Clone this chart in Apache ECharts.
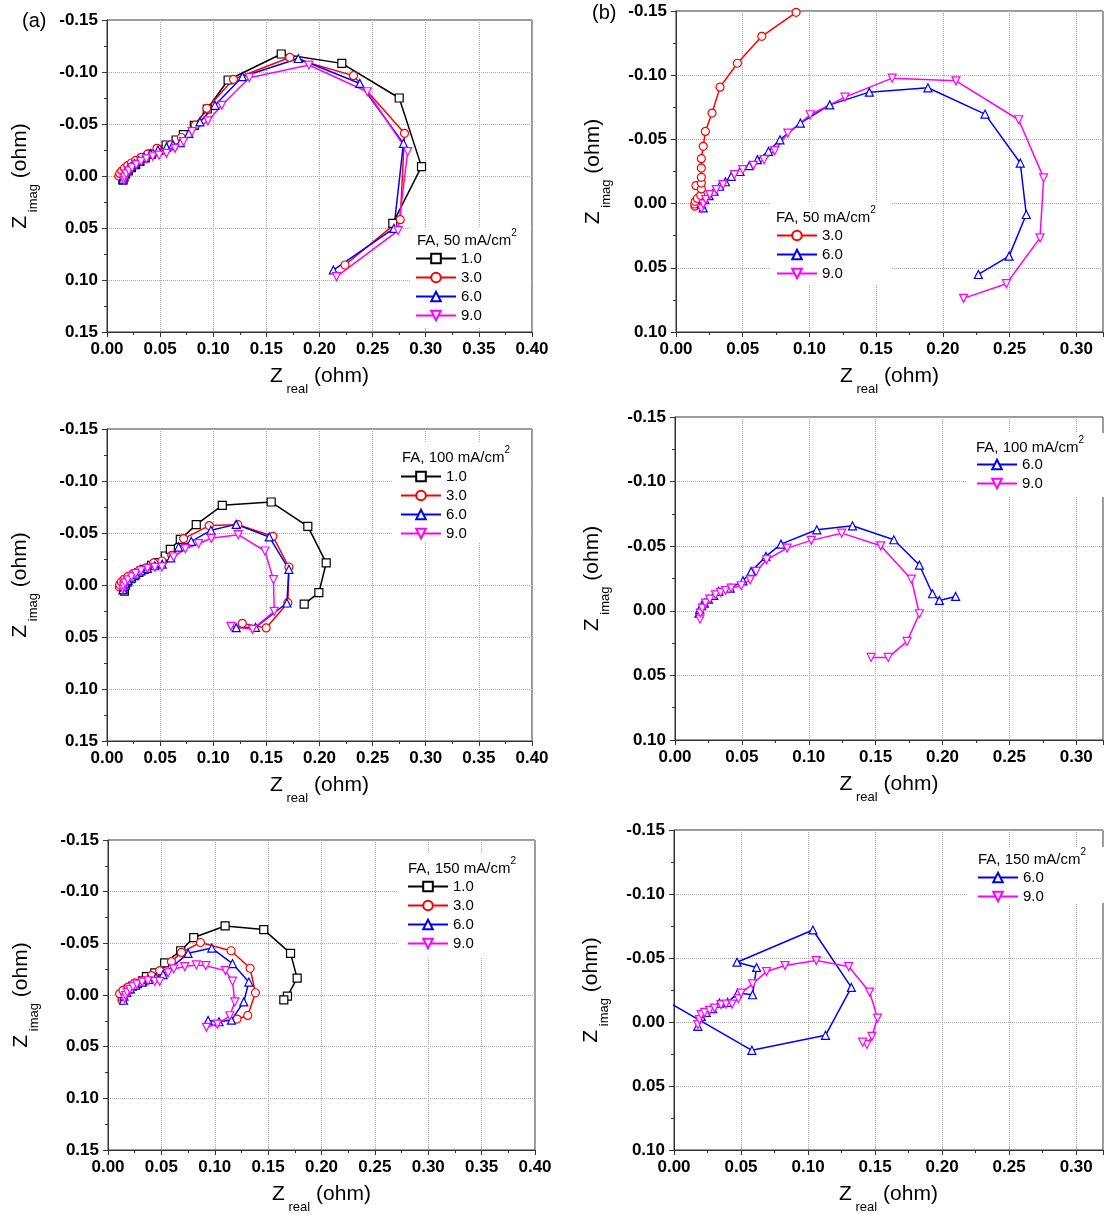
<!DOCTYPE html>
<html>
<head>
<meta charset="utf-8">
<script src="https://cdn.jsdelivr.net/npm/echarts@6/dist/echarts.min.js"></script>
<style>
html,body{margin:0;padding:0;background:#fff;}
#c{width:1106px;height:1215px;}
</style>
</head>
<body>
<div id="c"></div>
<script>
// ---------- data: [Zreal, Zimag] pairs (ohm) ----------
// (a) FA, 50 mA/cm2
const A50_10 = [[0.0150,0.0040],[0.0160,0.0010],[0.0175,-0.0020],[0.0200,-0.0050],[0.0230,-0.0080],[0.0270,-0.0110],[0.0310,-0.0140],[0.0360,-0.0175],[0.0420,-0.0210],[0.0480,-0.0250],[0.0556,-0.0298],[0.0650,-0.0346],[0.0719,-0.0397],[0.0822,-0.0487],[0.0944,-0.0644],[0.1140,-0.0923],[0.1640,-0.1173],[0.2210,-0.1083],[0.2750,-0.0750],[0.2960,-0.0090],[0.2690,0.0455]];
const A50_30 = [[0.0110,0.0000],[0.0120,-0.0025],[0.0140,-0.0050],[0.0165,-0.0075],[0.0195,-0.0100],[0.0230,-0.0125],[0.0270,-0.0150],[0.0320,-0.0180],[0.0380,-0.0210],[0.0470,-0.0266],[0.0600,-0.0300],[0.0700,-0.0370],[0.0830,-0.0490],[0.0940,-0.0650],[0.1190,-0.0930],[0.1720,-0.1140],[0.2320,-0.0965],[0.2800,-0.0410],[0.2760,0.0420],[0.2240,0.0856]];
const A50_60 = [[0.0150,0.0030],[0.0155,0.0000],[0.0170,-0.0030],[0.0195,-0.0060],[0.0225,-0.0090],[0.0260,-0.0120],[0.0300,-0.0150],[0.0350,-0.0180],[0.0410,-0.0215],[0.0480,-0.0250],[0.0560,-0.0280],[0.0620,-0.0300],[0.0690,-0.0320],[0.0770,-0.0410],[0.0875,-0.0520],[0.1016,-0.0680],[0.1275,-0.0955],[0.1800,-0.1130],[0.2380,-0.0890],[0.2790,-0.0314],[0.2700,0.0503],[0.2130,0.0904]];
const A50_90 = [[0.0160,0.0040],[0.0165,0.0010],[0.0180,-0.0020],[0.0205,-0.0050],[0.0235,-0.0080],[0.0275,-0.0110],[0.0320,-0.0140],[0.0370,-0.0165],[0.0430,-0.0190],[0.0490,-0.0200],[0.0560,-0.0218],[0.0640,-0.0266],[0.0720,-0.0330],[0.0800,-0.0426],[0.0950,-0.0530],[0.1080,-0.0680],[0.1340,-0.0945],[0.1900,-0.1067],[0.2450,-0.0810],[0.2830,-0.0234],[0.2740,0.0526],[0.2160,0.0968]];
// (b) FA, 50 mA/cm2
const B50_30 = [[0.0142,0.0020],[0.0140,0.0003],[0.0145,-0.0018],[0.0160,-0.0040],[0.0185,-0.0065],[0.0150,-0.0140],[0.0190,-0.0114],[0.0190,-0.0160],[0.0190,-0.0205],[0.0190,-0.0277],[0.0190,-0.0350],[0.0204,-0.0446],[0.0220,-0.0562],[0.0270,-0.0705],[0.0330,-0.0907],[0.0460,-0.1093],[0.0643,-0.1303],[0.0900,-0.1490]];
const B50_60 = [[0.0204,0.0034],[0.0190,0.0003],[0.0216,-0.0031],[0.0248,-0.0062],[0.0285,-0.0096],[0.0327,-0.0135],[0.0370,-0.0170],[0.0414,-0.0212],[0.0480,-0.0250],[0.0549,-0.0295],[0.0610,-0.0342],[0.0693,-0.0407],[0.0779,-0.0497],[0.0932,-0.0627],[0.1152,-0.0769],[0.1449,-0.0868],[0.1888,-0.0902],[0.2316,-0.0697],[0.2580,-0.0316],[0.2625,0.0085],[0.2496,0.0409],[0.2266,0.0552]];
const B50_90 = [[0.0190,0.0039],[0.0204,0.0003],[0.0223,-0.0031],[0.0253,-0.0070],[0.0302,-0.0109],[0.0352,-0.0148],[0.0438,-0.0225],[0.0500,-0.0264],[0.0580,-0.0298],[0.0660,-0.0342],[0.0740,-0.0412],[0.0838,-0.0549],[0.1006,-0.0692],[0.1266,-0.0829],[0.1620,-0.0977],[0.2098,-0.0956],[0.2568,-0.0653],[0.2755,-0.0200],[0.2728,0.0267],[0.2476,0.0624],[0.2155,0.0738]];
// (a) FA, 100 mA/cm2
const A100_10 = [[0.0163,0.0058],[0.0165,0.0030],[0.0175,0.0000],[0.0195,-0.0030],[0.0225,-0.0060],[0.0260,-0.0090],[0.0300,-0.0120],[0.0350,-0.0150],[0.0420,-0.0190],[0.0480,-0.0215],[0.0549,-0.0279],[0.0596,-0.0343],[0.0690,-0.0439],[0.0840,-0.0580],[0.1085,-0.0766],[0.1545,-0.0798],[0.1890,-0.0564],[0.2063,-0.0212],[0.1994,0.0074],[0.1856,0.0183]];
const A100_30 = [[0.0116,0.0019],[0.0120,-0.0005],[0.0135,-0.0030],[0.0160,-0.0055],[0.0195,-0.0080],[0.0240,-0.0105],[0.0300,-0.0135],[0.0370,-0.0165],[0.0439,-0.0212],[0.0517,-0.0231],[0.0610,-0.0285],[0.0721,-0.0446],[0.0962,-0.0571],[0.1232,-0.0580],[0.1561,-0.0468],[0.1712,-0.0173],[0.1702,0.0170],[0.1498,0.0413],[0.1273,0.0369]];
const A100_60 = [[0.0150,0.0045],[0.0155,0.0015],[0.0170,-0.0015],[0.0195,-0.0045],[0.0230,-0.0075],[0.0270,-0.0105],[0.0320,-0.0135],[0.0380,-0.0160],[0.0450,-0.0185],[0.0520,-0.0200],[0.0600,-0.0260],[0.0674,-0.0365],[0.0793,-0.0420],[0.0978,-0.0526],[0.1216,-0.0583],[0.1527,-0.0462],[0.1712,-0.0151],[0.1693,0.0173],[0.1398,0.0407],[0.1216,0.0410]];
const A100_90 = [[0.0150,0.0040],[0.0155,0.0010],[0.0170,-0.0020],[0.0195,-0.0050],[0.0230,-0.0080],[0.0270,-0.0110],[0.0320,-0.0140],[0.0380,-0.0160],[0.0450,-0.0170],[0.0517,-0.0173],[0.0627,-0.0269],[0.0737,-0.0349],[0.0862,-0.0397],[0.0981,-0.0449],[0.1235,-0.0484],[0.1486,-0.0327],[0.1567,-0.0051],[0.1574,0.0253],[0.1370,0.0426],[0.1166,0.0397]];
// (b) FA, 100 mA/cm2
const B100_60 = [[0.0179,0.0018],[0.0185,-0.0010],[0.0200,-0.0040],[0.0220,-0.0060],[0.0250,-0.0090],[0.0290,-0.0120],[0.0327,-0.0150],[0.0413,-0.0176],[0.0508,-0.0232],[0.0569,-0.0305],[0.0680,-0.0421],[0.0792,-0.0516],[0.1060,-0.0627],[0.1327,-0.0658],[0.1636,-0.0550],[0.1827,-0.0354],[0.1925,-0.0132],[0.1977,-0.0080],[0.2098,-0.0111]];
const B100_90 = [[0.0187,0.0065],[0.0190,0.0018],[0.0204,-0.0020],[0.0228,-0.0060],[0.0260,-0.0090],[0.0302,-0.0124],[0.0340,-0.0142],[0.0377,-0.0157],[0.0420,-0.0176],[0.0495,-0.0194],[0.0562,-0.0240],[0.0606,-0.0305],[0.0685,-0.0395],[0.0838,-0.0485],[0.1019,-0.0545],[0.1246,-0.0601],[0.1538,-0.0503],[0.1767,-0.0245],[0.1827,0.0023],[0.1735,0.0237],[0.1594,0.0361],[0.1466,0.0361]];
// (a) FA, 150 mA/cm2
const A150_10 = [[0.0134,0.0019],[0.0145,-0.0005],[0.0165,-0.0030],[0.0190,-0.0060],[0.0230,-0.0085],[0.0275,-0.0110],[0.0325,-0.0137],[0.0360,-0.0178],[0.0438,-0.0214],[0.0531,-0.0310],[0.0681,-0.0428],[0.0803,-0.0556],[0.1097,-0.0668],[0.1459,-0.0633],[0.1710,-0.0403],[0.1772,-0.0163],[0.1681,0.0010],[0.1647,0.0048]];
const A150_30 = [[0.0134,0.0051],[0.0109,-0.0013],[0.0140,-0.0045],[0.0188,-0.0077],[0.0250,-0.0118],[0.0328,-0.0141],[0.0406,-0.0188],[0.0484,-0.0236],[0.0594,-0.0323],[0.0688,-0.0412],[0.0866,-0.0508],[0.1153,-0.0428],[0.1331,-0.0259],[0.1381,-0.0022],[0.1309,0.0198],[0.1209,0.0233]];
const A150_60 = [[0.0145,0.0051],[0.0150,0.0010],[0.0175,-0.0025],[0.0210,-0.0060],[0.0260,-0.0095],[0.0320,-0.0125],[0.0380,-0.0150],[0.0450,-0.0170],[0.0516,-0.0198],[0.0750,-0.0403],[0.0972,-0.0454],[0.1166,-0.0304],[0.1319,-0.0125],[0.1272,0.0067],[0.1156,0.0243],[0.1040,0.0259],[0.0938,0.0246]];
const A150_90 = [[0.0156,0.0035],[0.0165,0.0005],[0.0180,-0.0025],[0.0205,-0.0055],[0.0234,-0.0080],[0.0270,-0.0105],[0.0320,-0.0125],[0.0375,-0.0137],[0.0438,-0.0131],[0.0484,-0.0131],[0.0563,-0.0214],[0.0616,-0.0252],[0.0719,-0.0275],[0.0828,-0.0291],[0.0916,-0.0284],[0.1100,-0.0236],[0.1166,-0.0134],[0.1188,0.0067],[0.1141,0.0201],[0.1025,0.0281],[0.0922,0.0313]];
// (b) FA, 150 mA/cm2
const B150_60 = [[-0.0200,-0.0249],[0.0581,0.0221],[0.1130,0.0104],[0.1323,-0.0270],[0.1036,-0.0719],[0.0470,-0.0467],[0.0616,-0.0426],[0.0586,-0.0213],[0.0475,-0.0226],[0.0400,-0.0153],[0.0339,-0.0148],[0.0289,-0.0104],[0.0240,-0.0075],[0.0203,-0.0044],[0.0178,0.0034]];
const B150_90 = [[0.0178,0.0021],[0.0190,-0.0018],[0.0203,-0.0057],[0.0228,-0.0075],[0.0265,-0.0091],[0.0302,-0.0109],[0.0351,-0.0135],[0.0388,-0.0140],[0.0433,-0.0140],[0.0480,-0.0182],[0.0500,-0.0226],[0.0586,-0.0298],[0.0690,-0.0394],[0.0828,-0.0441],[0.1061,-0.0480],[0.1303,-0.0433],[0.1459,-0.0234],[0.1518,-0.0031],[0.1476,0.0112],[0.1439,0.0176],[0.1407,0.0158]];

// axis ranges per panel: TL, TR, ML, MR, BL, BR
const X_MAX = [0.40, 0.32, 0.40, 0.32, 0.40, 0.32];
const Y_MIN = [-0.15, -0.15, -0.15, -0.15, -0.15, -0.15];
const Y_MAX = [0.15, 0.10, 0.15, 0.10, 0.15, 0.10];
const LEGEND_TITLES = ['FA, 50 mA/cm', 'FA, 50 mA/cm', 'FA, 100 mA/cm', 'FA, 100 mA/cm', 'FA, 150 mA/cm', 'FA, 150 mA/cm'];
const PANEL_SERIES = [
  [['1.0', A50_10], ['3.0', A50_30], ['6.0', A50_60], ['9.0', A50_90]],
  [['3.0', B50_30], ['6.0', B50_60], ['9.0', B50_90]],
  [['1.0', A100_10], ['3.0', A100_30], ['6.0', A100_60], ['9.0', A100_90]],
  [['6.0', B100_60], ['9.0', B100_90]],
  [['1.0', A150_10], ['3.0', A150_30], ['6.0', A150_60], ['9.0', A150_90]],
  [['6.0', B150_60], ['9.0', B150_90]]
];

// ---------- layout / style ----------
const FONT = '"Liberation Sans", Arial, sans-serif';
const GRIDS = [
  {left:107, top:20,  width:425, height:312},
  {left:676, top:11,  width:431, height:321},
  {left:107, top:429, width:425, height:312},
  {left:675, top:417, width:431, height:323},
  {left:108, top:840, width:427, height:313},
  {left:674, top:830, width:432, height:321}
];
const LEG_POS = [
  {left:415, top:251, tx:417, ty:238, box:[410,228,121,100]},
  {left:776, top:228, tx:776, ty:215, box:[770,202,122,82]},
  {left:400, top:469, tx:402, ty:455, box:[393,443,138,100]},
  {left:976, top:457, tx:976, ty:445, box:[967,433,140,64]},
  {left:407, top:879, tx:408, ty:866, box:[398,853,136,104]},
  {left:977, top:870, tx:978, ty:857, box:[968,847,138,56]}
];
const STYLE = {
  '1.0': {color:'#000000', symbol:'rect'},
  '3.0': {color:'#ff0000', symbol:'circle'},
  '6.0': {color:'#0000ff', symbol:'triangle'},
  '9.0': {color:'#ff00ff', symbol:'path://M0,0L10,0L5,9Z'}
};

function tickFmt(v) {
  const k = v / 0.05;
  if (Math.abs(k - Math.round(k)) > 1e-6) return '';
  return (Math.round(k) * 0.05).toFixed(2);
}
const axisCommon = {
  axisLine: {onZero:false, lineStyle:{color:'#333', width:1}},
  axisTick: {inside:false, length:5, lineStyle:{color:'#333'}},
  minorTick: {show:true, splitNumber:2, length:3, lineStyle:{color:'#333'}},
  splitLine: {show:true, lineStyle:{type:'dotted', color:'#a8a8a8', width:1}},
  axisLabel: {fontSize:17, fontWeight:'bold', color:'#000', fontFamily:FONT, margin:9, formatter:tickFmt}
};
function nameStyle() {
  return {rich:{
    z:{fontSize:21, lineHeight:24, verticalAlign:'top', fontFamily:FONT, color:'#000'},
    s:{fontSize:13, lineHeight:30, verticalAlign:'bottom', fontFamily:FONT, color:'#000'}
  }};
}

const grid = [], xAxis = [], yAxis = [], series = [], legend = [], graphic = [];
GRIDS.forEach((g, i) => {
  grid.push(Object.assign({show:true, borderColor:'#333', borderWidth:1, backgroundColor:'transparent'}, g));
  xAxis.push(Object.assign({}, axisCommon, {
    gridIndex:i, type:'value', min:0, max:X_MAX[i], interval:0.05,
    name:'{z|Z}{s| real}{z| (ohm)}', nameLocation:'middle', nameGap:34, nameTextStyle:nameStyle()
  }));
  yAxis.push(Object.assign({}, axisCommon, {
    gridIndex:i, type:'value', min:Y_MIN[i], max:Y_MAX[i], interval:0.05, inverse:true,
    name:'{z|Z}{s| imag}{z| (ohm)}', nameLocation:'middle', nameGap:(i % 2 === 0 ? 67 : 63), nameTextStyle:nameStyle()
  }));
  PANEL_SERIES[i].forEach(([name, data]) => {
    const st = STYLE[name];
    series.push({
      type:'line', name:name, xAxisIndex:i, yAxisIndex:i, data:data,
      symbol:st.symbol, symbolSize:8, showAllSymbol:true, clip:true,
      lineStyle:{color:st.color, width:1.5},
      itemStyle:{color:'#ffffff', borderColor:st.color, borderWidth:1.2},
      z:3, animation:false
    });
  });
  const lp = LEG_POS[i];
  legend.push({
    data: PANEL_SERIES[i].map(s => s[0]),
    left: lp.left, top: lp.top, orient:'vertical', padding:0,
    itemWidth:40, itemHeight:12, itemGap:4, selectedMode:false,
    textStyle:{fontSize:15, lineHeight:14, color:'#000', fontFamily:FONT}
  });
  graphic.push({type:'rect', shape:{x:lp.box[0], y:lp.box[1], width:lp.box[2], height:lp.box[3]},
    style:{fill:'#ffffff'}, z:1, silent:true});
  graphic.push({type:'text', x:lp.tx, y:lp.ty, z:5, silent:true,
    style:{text:'{a|' + LEGEND_TITLES[i] + '}{b|2}', verticalAlign:'middle', align:'left',
      rich:{a:{fontSize:15, lineHeight:20, verticalAlign:'bottom', fontFamily:FONT, fill:'#000', color:'#000'},
            b:{fontSize:10, lineHeight:10, verticalAlign:'top', fontFamily:FONT, fill:'#000', color:'#000'}}}});
});
graphic.push({type:'text', x:22, y:21, z:5, style:{text:'(a)', fontSize:20, fontFamily:FONT, fill:'#000', verticalAlign:'middle'}});
graphic.push({type:'text', x:592, y:13, z:5, style:{text:'(b)', fontSize:20, fontFamily:FONT, fill:'#000', verticalAlign:'middle'}});

const chart = echarts.init(document.getElementById('c'), null, {renderer:'canvas'});
chart.setOption({
  animation:false,
  backgroundColor:'#ffffff',
  grid, xAxis, yAxis, series, legend, graphic
});
</script>
</body>
</html>
